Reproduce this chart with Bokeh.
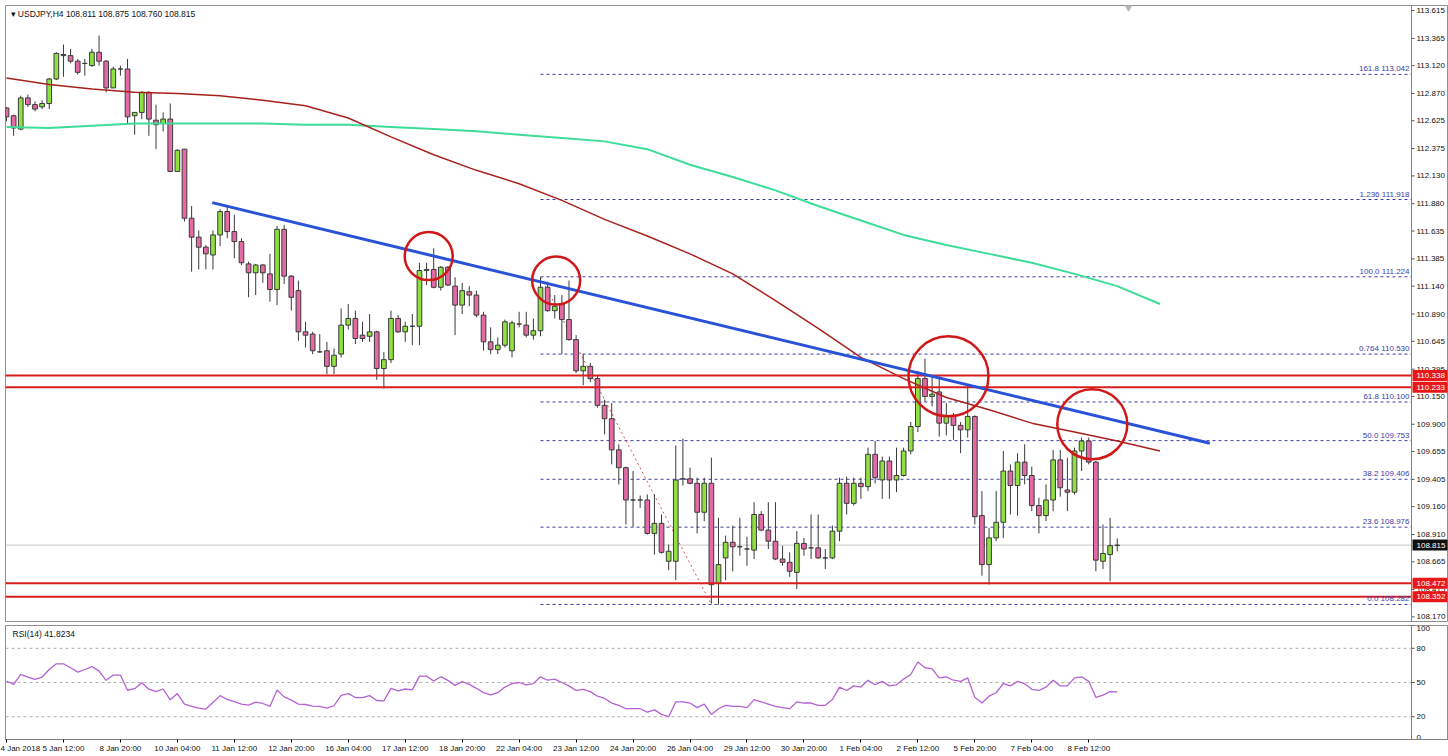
from bokeh.plotting import figure
from bokeh.layouts import column
from bokeh.models import FixedTicker, Span, Label, ColumnDataSource, Range1d
from bokeh.core.properties import value
from bokeh.embed import file_html
from bokeh.resources import INLINE

# ---------------- data (USDJPY H4) ----------------
opens = [112.74, 112.67, 112.55, 112.83, 112.77, 112.75, 112.78, 113.00, 113.21, 113.21,
         113.16, 113.14, 113.12, 113.24, 113.16, 112.92, 113.09, 113.09, 112.67, 112.70,
         112.88, 112.63, 112.60, 112.64, 112.17, 112.37, 111.75, 111.58, 111.49, 111.42,
         111.60, 111.81, 111.63, 111.54, 111.34, 111.26, 111.33, 111.25, 111.11, 111.65,
         111.23, 111.10, 110.73, 110.71, 110.55, 110.56, 110.42, 110.53, 110.79, 110.85,
         110.70, 110.69, 110.73, 110.40, 110.48, 110.85, 110.73, 110.78, 110.78, 111.28,
         111.29, 111.13, 111.31, 111.14, 110.97, 111.09, 111.06, 110.88, 110.64, 110.57,
         110.61, 110.56, 110.80, 110.79, 110.70, 110.74, 111.13, 110.92, 110.98, 110.84,
         110.66, 110.38, 110.42, 110.31, 110.07, 109.95, 109.67, 109.51, 109.22, 109.22,
         109.22, 108.92, 109.01, 108.67, 108.67, 109.41, 109.41, 109.37, 109.11, 109.37,
         108.47, 108.70, 108.84, 108.80, 108.78, 108.77, 109.09, 108.95, 108.85, 108.69,
         108.66, 108.57, 108.83, 108.79, 108.79, 108.70, 108.70, 108.94, 109.37, 109.19,
         109.37, 109.34, 109.63, 109.40, 109.57, 109.40, 109.44, 109.66, 109.88, 110.31,
         110.15, 110.19, 109.91, 109.97, 109.89, 109.85, 109.97, 109.08, 108.64, 108.88,
         109.02, 109.48, 109.35, 109.56, 109.44, 109.17, 109.08, 109.22, 109.58, 109.31,
         109.29, 109.66, 109.75, 109.56, 108.67, 108.73, 108.811]
highs = [112.75, 112.68, 112.85, 112.86, 112.80, 112.81, 113.01, 113.24, 113.31, 113.27,
         113.18, 113.18, 113.27, 113.39, 113.17, 113.11, 113.12, 113.18, 112.70, 112.89,
         112.89, 112.77, 112.70, 112.78, 112.37, 112.37, 111.86, 111.64, 111.51, 111.64,
         111.83, 111.87, 111.78, 111.57, 111.36, 111.34, 111.34, 111.43, 111.68, 111.69,
         111.24, 111.19, 110.82, 110.73, 110.71, 110.64, 110.58, 110.94, 110.98, 110.92,
         110.82, 110.89, 110.74, 110.55, 110.92, 110.88, 110.82, 110.89, 111.35, 111.35,
         111.48, 111.32, 111.32, 111.22, 111.17, 111.14, 111.10, 110.91, 110.77, 110.68,
         110.84, 110.83, 110.91, 110.91, 110.85, 111.22, 111.18, 111.06, 111.06, 111.19,
         110.70, 110.53, 110.45, 110.34, 110.12, 110.09, 109.72, 109.52, 109.48, 109.26,
         109.27, 109.27, 109.09, 108.82, 109.71, 109.77, 109.51, 109.42, 109.42, 109.60,
         109.06, 108.90, 108.99, 109.06, 108.89, 109.20, 109.12, 109.20, 109.20, 108.81,
         108.75, 108.94, 108.88, 109.09, 109.09, 108.78, 108.99, 109.42, 109.43, 109.42,
         109.42, 109.69, 109.75, 109.61, 109.61, 109.69, 109.69, 109.92, 110.38, 110.49,
         110.34, 110.33, 110.09, 110.00, 109.92, 110.25, 109.98, 109.30, 108.97, 109.30,
         109.66, 109.54, 109.64, 109.72, 109.52, 109.24, 109.36, 109.67, 109.67, 109.60,
         109.69, 109.78, 109.78, 109.57, 109.00, 109.06, 108.875]
lows = [112.62, 112.49, 112.54, 112.75, 112.71, 112.73, 112.73, 112.99, 113.02, 113.14,
        113.04, 113.03, 113.11, 113.12, 112.88, 112.92, 113.03, 112.60, 112.50, 112.64,
        112.49, 112.37, 112.53, 112.17, 112.17, 111.72, 111.27, 111.29, 111.29, 111.29,
        111.50, 111.57, 111.39, 111.33, 111.04, 111.06, 111.17, 111.00, 110.97, 111.16,
        110.92, 110.65, 110.59, 110.53, 110.54, 110.35, 110.35, 110.50, 110.75, 110.62,
        110.64, 110.64, 110.30, 110.22, 110.45, 110.72, 110.64, 110.61, 110.61, 111.15,
        111.12, 111.10, 111.14, 110.70, 110.89, 110.96, 110.86, 110.56, 110.53, 110.53,
        110.59, 110.50, 110.77, 110.68, 110.66, 110.69, 110.91, 110.85, 110.53, 110.65,
        110.36, 110.25, 110.28, 110.05, 109.81, 109.54, 109.36, 109.00, 108.98, 109.15,
        108.91, 108.73, 108.74, 108.59, 108.50, 109.35, 109.36, 108.92, 109.03, 108.29,
        108.28, 108.50, 108.58, 108.72, 108.63, 108.69, 108.94, 108.78, 108.68, 108.63,
        108.53, 108.42, 108.72, 108.69, 108.69, 108.60, 108.69, 108.85, 109.09, 109.17,
        109.23, 109.30, 109.37, 109.23, 109.23, 109.29, 109.43, 109.63, 109.83, 110.10,
        110.06, 109.79, 109.80, 109.76, 109.64, 109.78, 109.00, 108.54, 108.46, 108.85,
        108.88, 109.09, 109.08, 109.36, 109.12, 108.92, 109.03, 109.12, 109.25, 109.12,
        109.27, 109.48, 109.54, 108.58, 108.60, 108.49, 108.760]
closes = [112.66, 112.56, 112.83, 112.77, 112.73, 112.78, 113.00, 113.23, 113.22, 113.16,
          113.06, 113.14, 113.24, 113.16, 112.92, 113.09, 113.09, 112.66, 112.70, 112.88,
          112.64, 112.59, 112.64, 112.17, 112.36, 111.75, 111.58, 111.49, 111.43, 111.60,
          111.81, 111.63, 111.54, 111.35, 111.26, 111.33, 111.26, 111.11, 111.65, 111.23,
          111.04, 110.73, 110.70, 110.56, 110.55, 110.42, 110.52, 110.79, 110.85, 110.67,
          110.67, 110.73, 110.40, 110.48, 110.85, 110.73, 110.78, 110.78, 111.28, 111.29,
          111.13, 111.31, 111.15, 110.97, 111.10, 111.06, 110.88, 110.64, 110.57, 110.61,
          110.82, 110.81, 110.80, 110.70, 110.74, 111.13, 110.92, 110.96, 110.84, 110.66,
          110.38, 110.42, 110.31, 110.07, 109.95, 109.67, 109.51, 109.22, 109.22, 109.22,
          108.92, 109.01, 108.75, 108.76, 109.40, 109.41, 109.37, 109.11, 109.37, 108.46,
          108.64, 108.84, 108.80, 108.80, 108.78, 109.09, 108.95, 108.85, 108.69, 108.66,
          108.58, 108.83, 108.78, 108.79, 108.70, 108.70, 108.94, 109.37, 109.19, 109.37,
          109.34, 109.63, 109.42, 109.57, 109.40, 109.44, 109.66, 109.88, 110.31, 110.15,
          110.17, 109.91, 109.97, 109.89, 109.85, 109.97, 109.07, 108.64, 108.88, 109.02,
          109.48, 109.35, 109.56, 109.44, 109.17, 109.08, 109.22, 109.58, 109.33, 109.29,
          109.66, 109.75, 109.56, 108.68, 108.74, 108.81, 108.815]

rsi_vals = [51.3, 48.4, 57.1, 54.8, 52.7, 54.8, 61.4, 66.4, 66.4, 62.9,
            59.1, 61.4, 64.0, 60.0, 51.9, 56.5, 56.5, 43.2, 44.6, 49.8,
            44.1, 42.0, 44.3, 34.8, 40.3, 31.0, 29.0, 27.5, 26.7, 32.5,
            38.5, 35.1, 33.3, 31.0, 30.1, 32.7, 31.6, 29.0, 43.5, 37.4,
            34.5, 31.0, 30.7, 29.3, 29.0, 27.5, 29.6, 38.8, 40.3, 36.8,
            36.8, 38.5, 34.2, 33.9, 44.9, 42.6, 44.3, 43.5, 55.6, 55.6,
            51.3, 55.1, 51.9, 47.5, 50.7, 48.4, 44.9, 41.1, 39.1, 41.1,
            46, 49, 50, 48, 49, 55, 52, 53, 50, 47,
            43, 44, 42, 38, 36, 32, 30, 27, 27, 27,
            24, 26, 22, 20, 33, 33, 32, 28, 31, 22,
            27, 30, 29, 29, 28, 35, 33, 31, 29, 28,
            27, 33, 32, 32, 30, 30, 35, 46, 43, 47,
            46, 52, 48, 51, 47, 48, 53, 57, 68, 63,
            62, 54, 55, 52, 51, 54, 37, 32, 38, 41,
            49, 47, 51, 49, 44, 43, 46, 52, 47, 47,
            54, 55, 51, 37, 39, 42, 41.82]

# moving averages (shifted forward), sampled every 6 bars
ma_step = 6
ma_red = [113.01, 112.95, 112.91, 112.88, 112.87, 112.85, 112.81, 112.76, 112.65, 112.48,
          112.32, 112.18, 112.06, 111.91, 111.74, 111.59, 111.43, 111.25, 111.01, 110.76,
          110.50, 110.31, 110.14, 110.03, 109.91, 109.83, 109.75, 109.66]
ma_green = [112.57, 112.56, 112.58, 112.60, 112.60, 112.60, 112.60, 112.59, 112.59, 112.57,
            112.55, 112.53, 112.50, 112.47, 112.44, 112.37, 112.23, 112.12, 112.00, 111.86,
            111.73, 111.60, 111.51, 111.43, 111.35, 111.25, 111.14, 110.98]

date_labels = ["4 Jan 2018", "5 Jan 12:00", "8 Jan 20:00", "10 Jan 04:00", "11 Jan 12:00",
               "12 Jan 20:00", "16 Jan 04:00", "17 Jan 12:00", "18 Jan 20:00", "22 Jan 04:00",
               "23 Jan 12:00", "24 Jan 20:00", "26 Jan 04:00", "29 Jan 12:00", "30 Jan 20:00",
               "1 Feb 04:00", "2 Feb 12:00", "5 Feb 20:00", "7 Feb 04:00", "8 Feb 12:00"]
bars_per_label = 8

price_ticks = [113.615, 113.365, 113.120, 112.870, 112.625, 112.375, 112.130, 111.880,
               111.635, 111.385, 111.140, 110.890, 110.645, 110.395, 110.150, 109.900,
               109.655, 109.405, 109.160, 108.910, 108.665, 108.415, 108.170]
rsi_ticks = [100, 80, 50, 20, 0]
rsi_levels = [80, 50, 20]

fib_names = ["161.8", "1.236", "100.0", "0.764", "61.8", "50.0", "38.2", "23.6", "0.0"]
fib_levels = [113.042, 111.918, 111.224, 110.530, 110.100, 109.753, 109.406, 108.976, 108.282]
fib_start = 75
fib_diag_end = 99

sr_levels = [110.338, 110.233, 108.472, 108.352]
last_price = 108.815
title_text = "\u25BE USDJPY,H4  108.811 108.875 108.760 108.815"
rsi_title = "RSI(14) 41.8234"

trend_x = [28.9, 169.0]
trend_y = [111.89, 109.73]

circle_x = [59.3, 77.2, 132.3, 152.5]
circle_y = [111.41, 111.19, 110.33, 109.90]
circle_px = [48, 48, 80, 70]

# ---------------- layout constants (pixels) ----------------
FONT = "Liberation Sans"
BULL = "#8fe040"
BEAR = "#e46aa6"
EDGE = "#3a3a3a"
FIBC = "#3c3ca8"
REDL = "#d81e1e"
AXC = "#808080"

W, H_MAIN, H_RSI = 1448, 622, 134
LEFT = 5
BAR_PX = 7.12
BAR0_PX = 6.0
AXIS_PX = 1411.0

def px_to_x(px):
    return (px - BAR0_PX) / BAR_PX

X0, X1 = px_to_x(LEFT), px_to_x(W)
AXIS_X = px_to_x(AXIS_PX)
TICK_X = px_to_x(AXIS_PX + 3)
LAB_X = px_to_x(AXIS_PX + 5)
BOX_X = px_to_x(AXIS_PX + 18.5)
N = len(opens)
idx = list(range(N))

# ---------------- main price panel ----------------
main = figure(width=W, height=H_MAIN, x_range=Range1d(X0, X1), y_range=Range1d(108.12, 113.660),
              output_backend="svg", toolbar_location=None, x_axis_location=None,
              y_axis_location=None, min_border_left=LEFT, min_border_top=5,
              min_border_bottom=0, min_border_right=0)
main.grid.visible = False
main.outline_line_color = "#909090"

# fib dotted levels
for lv, nm in zip(fib_levels, fib_names):
    main.segment(x0=[fib_start], y0=[lv], x1=[AXIS_X], y1=[lv], line_color=FIBC,
                 line_dash="3 3", line_width=1)
    main.add_layout(Label(x=AXIS_X, y=lv, x_offset=-2, y_offset=1, text=f"{nm} {lv:.3f}",
                          text_align="right", text_baseline="bottom", text_font=FONT,
                          text_font_size="8px", text_color=FIBC))
main.line([fib_start, fib_diag_end], [fib_levels[2], fib_levels[-1]], line_color="#e05050",
          line_dash="2 3", line_width=1)

# last price line
main.segment(x0=[X0], y0=[last_price], x1=[AXIS_X], y1=[last_price], line_color="#c8c8c8",
             line_width=1)

# candles
top = [max(o, c) for o, c in zip(opens, closes)]
bot = [min(o, c) for o, c in zip(opens, closes)]
col = [BULL if c >= o else BEAR for o, c in zip(opens, closes)]
src = ColumnDataSource(dict(x=idx, h=highs, l=lows, top=top, bot=bot, col=col))
main.segment(x0="x", y0="h", x1="x", y1="l", source=src, line_color=EDGE, line_width=1)
main.vbar(x="x", width=0.66, top="top", bottom="bot", fill_color="col", line_color=EDGE,
          line_width=1, source=src)

# moving averages
ma_x = [i * ma_step for i in range(len(ma_red))]
main.line(ma_x, ma_green, line_color="#3ddc98", line_width=2)
main.line(ma_x, ma_red, line_color="#a8201c", line_width=1.5)

# support / resistance lines
for lv in sr_levels:
    main.segment(x0=[X0], y0=[lv], x1=[AXIS_X], y1=[lv], line_color=REDL, line_width=2)

# trend line and circles
main.line(trend_x, trend_y, line_color="#2a52d6", line_width=3)
main.scatter(circle_x, circle_y, size=circle_px, marker="circle", fill_alpha=0,
             line_color="#d01818", line_width=2.5)

# chart shift marker
main.scatter([px_to_x(1128)], [113.645], marker="inverted_triangle", size=7,
             fill_color="#b8b8b8", line_color="#b8b8b8")

# price axis (drawn inside the frame so price boxes can overlap it)
main.add_layout(Span(location=AXIS_X, dimension="height", line_color=AXC, line_width=1))
main.segment(x0=[AXIS_X] * len(price_ticks), y0=price_ticks, x1=[TICK_X] * len(price_ticks),
             y1=price_ticks, line_color="#505050", line_width=1)
main.text(x=[LAB_X] * len(price_ticks), y=price_ticks, text=[f"{t:.3f}" for t in price_ticks],
          text_font=value(FONT), text_font_size=value("8px"), text_color="#111111",
          text_baseline="middle", text_align="left")
# price boxes
main.rect(x=[BOX_X] * len(sr_levels), y=sr_levels, width=35, height=11, width_units="screen",
          height_units="screen", fill_color="#e81818", line_color=None)
main.rect(x=[BOX_X], y=[last_price], width=35, height=11, width_units="screen",
          height_units="screen", fill_color="#101010", line_color=None)
main.text(x=[LAB_X] * (len(sr_levels) + 1), y=sr_levels + [last_price],
          text=[f"{v:.3f}" for v in sr_levels + [last_price]], text_font=value(FONT),
          text_font_size=value("8px"), text_color="white", text_baseline="middle",
          text_align="left")

main.add_layout(Label(x=X0, y=113.660, x_offset=5, y_offset=-3, text=title_text,
                      text_align="left", text_baseline="top", text_font=FONT,
                      text_font_size="8.5px", text_color="#111111"))

# ---------------- RSI panel ----------------
rsi = figure(width=W, height=H_RSI, x_range=main.x_range, y_range=Range1d(0, 100),
             output_backend="svg", toolbar_location=None, y_axis_location=None,
             min_border_left=LEFT, min_border_top=3, min_border_bottom=17, min_border_right=0)
rsi.grid.visible = False
rsi.outline_line_color = "#909090"
for lv in rsi_levels:
    rsi.segment(x0=[X0], y0=[lv], x1=[AXIS_X], y1=[lv], line_color="#b0b0b0",
                line_dash="3 3", line_width=1)
rsi.line(idx, rsi_vals, line_color="#b462d2", line_width=1.3)
rsi.add_layout(Label(x=X0, y=100, x_offset=7, y_offset=-3, text=rsi_title,
                     text_align="left", text_baseline="top", text_font=FONT,
                     text_font_size="8.5px", text_color="#111111"))
rsi.add_layout(Span(location=AXIS_X, dimension="height", line_color=AXC, line_width=1))
rsi.segment(x0=[AXIS_X] * len(rsi_ticks), y0=rsi_ticks, x1=[TICK_X] * len(rsi_ticks),
            y1=rsi_ticks, line_color="#505050", line_width=1)
rsi.text(x=[LAB_X] * len(rsi_ticks), y=rsi_ticks, text=[str(t) for t in rsi_ticks],
         text_font=value(FONT), text_font_size=value("8px"), text_color="#111111",
         text_align="left",
         text_baseline=["top" if t == 100 else ("bottom" if t == 0 else "middle") for t in rsi_ticks])

rx = rsi.xaxis[0]
tick_pos = [i * bars_per_label for i in range(len(date_labels))]
rx.ticker = FixedTicker(ticks=tick_pos)
rx.major_label_overrides = {t: s for t, s in zip(tick_pos, date_labels)}
rx.major_label_text_align = "left"
rx.major_label_text_font = FONT
rx.major_label_text_font_size = "8px"
rx.major_label_text_color = "#111111"
rx.major_tick_out = 3
rx.major_tick_in = 0
rx.minor_tick_line_color = None
rx.major_label_standoff = 1
rx.axis_line_color = AXC

layout = column(main, rsi, spacing=0)
open("out.html", "w").write(file_html(layout, INLINE))
